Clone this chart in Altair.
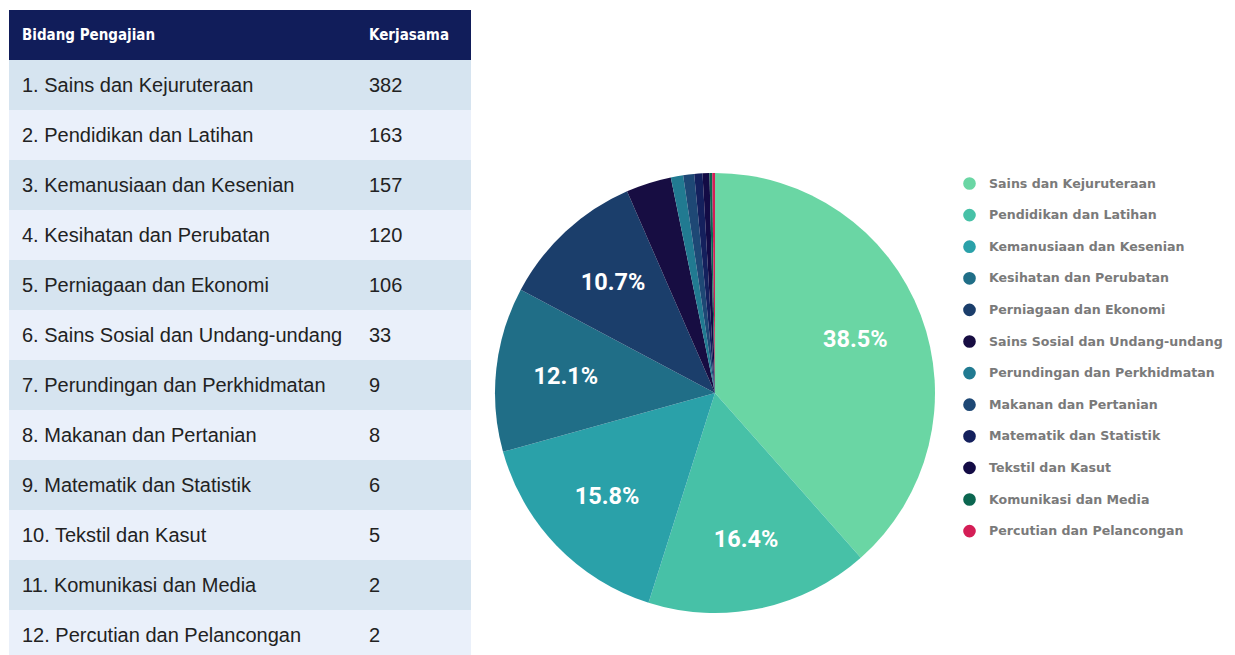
import altair as alt
import pandas as pd

categories = [
    "Sains dan Kejuruteraan",
    "Pendidikan dan Latihan",
    "Kemanusiaan dan Kesenian",
    "Kesihatan dan Perubatan",
    "Perniagaan dan Ekonomi",
    "Sains Sosial dan Undang-undang",
    "Perundingan dan Perkhidmatan",
    "Makanan dan Pertanian",
    "Matematik dan Statistik",
    "Tekstil dan Kasut",
    "Komunikasi dan Media",
    "Percutian dan Pelancongan",
]
values = [382, 163, 157, 120, 106, 33, 9, 8, 6, 5, 2, 2]
colors = [
    "#6AD6A4", "#47C1A7", "#2AA1A9", "#206E87", "#1B3E6B", "#170D42",
    "#217A91", "#1E4875", "#14205D", "#130B45", "#0B6650", "#D41E56",
]
header_labels = ["Bidang Pengajian", "Kerjasama"]

total = sum(values)
df = pd.DataFrame({
    "cat": categories,
    "value": values,
    "order": list(range(len(categories))),
    "row": list(range(1, len(categories) + 1)),
})
df["row_end"] = df["row"] + 1
df["row_mid"] = df["row"] + 0.5
df["label"] = [f"{i}. {c}" for i, c in zip(df["row"], df["cat"])]
df["pct"] = df["value"] / total
df["pct_label"] = [f"{p*100:.1f}%" for p in df["pct"]]

hdr = pd.DataFrame({"row": [0], "row_end": [1], "row_mid": [0.5],
                    "h1": [header_labels[0]], "h2": [header_labels[1]]})

yscale = alt.Scale(domain=[-0.04, 12.9], reverse=True)
TW = 463

rows_rect = alt.Chart(df).mark_rect().encode(
    x=alt.value(1), x2=alt.value(TW),
    y=alt.Y("row:Q", scale=yscale, axis=None), y2="row_end:Q",
    color=alt.condition("datum.row % 2 == 1", alt.value("#D6E4F0"), alt.value("#EAF0FA")),
)
rows_lab = alt.Chart(df).mark_text(align="left", baseline="middle", font="Liberation Sans",
                                   fontSize=20, color="#222222", dy=1).encode(
    x=alt.value(14), y=alt.Y("row_mid:Q", scale=yscale, axis=None), text="label:N")
rows_val = alt.Chart(df).mark_text(align="left", baseline="middle", font="Liberation Sans",
                                   fontSize=20, color="#222222", dy=1).encode(
    x=alt.value(361), y=alt.Y("row_mid:Q", scale=yscale, axis=None), text="value:Q")
hdr_rect = alt.Chart(hdr).mark_rect(color="#111D5A").encode(
    x=alt.value(1), x2=alt.value(TW),
    y=alt.Y("row:Q", scale=yscale, axis=None), y2="row_end:Q")
hdr_t1 = alt.Chart(hdr).mark_text(align="left", baseline="middle", font="DejaVu Sans Condensed",
                                  fontWeight="bold", fontSize=15, color="white").encode(
    x=alt.value(14), y=alt.Y("row_mid:Q", scale=yscale, axis=None), text="h1:N")
hdr_t2 = alt.Chart(hdr).mark_text(align="left", baseline="middle", font="DejaVu Sans Condensed",
                                  fontWeight="bold", fontSize=15, color="white").encode(
    x=alt.value(361), y=alt.Y("row_mid:Q", scale=yscale, axis=None), text="h2:N")

table = alt.layer(rows_rect, hdr_rect, rows_lab, rows_val, hdr_t1, hdr_t2).properties(
    width=TW, height=647)

PW = 450
CX, CY = 225, 385
pie_base = alt.Chart(df).encode(
    theta=alt.Theta("value:Q", stack=True),
    order=alt.Order("order:Q"),
)
arcs = pie_base.mark_arc(outerRadius=220).encode(
    x=alt.value(CX), y=alt.value(CY),
    color=alt.Color("cat:N", scale=alt.Scale(domain=categories, range=colors),
                    legend=alt.Legend(title=None, orient="none", legendX=955, legendY=169,
                                      symbolType="circle", symbolSize=160, symbolStrokeWidth=0,
                                      labelFont="DejaVu Sans", labelFontWeight="bold",
                                      labelFontSize=12.6, labelColor="#7a7a7a",
                                      rowPadding=17.6, labelOffset=13, labelLimit=400)),
)
texts = pie_base.mark_text(radius=150, font="Roboto", fontWeight="bold", fontSize=23.5,
                           color="white", baseline="middle").encode(
    x=alt.value(CX), y=alt.value(CY), text="pct_label:N",
).transform_filter("datum.pct >= 0.05")

pie = alt.layer(arcs, texts).properties(width=PW, height=647)

chart = alt.hconcat(table, pie, spacing=19).properties(padding=0).configure_view(
    stroke=None).configure_legend(padding=0)

chart.save("out.html", embed_options={"renderer": "svg", "actions": False})
